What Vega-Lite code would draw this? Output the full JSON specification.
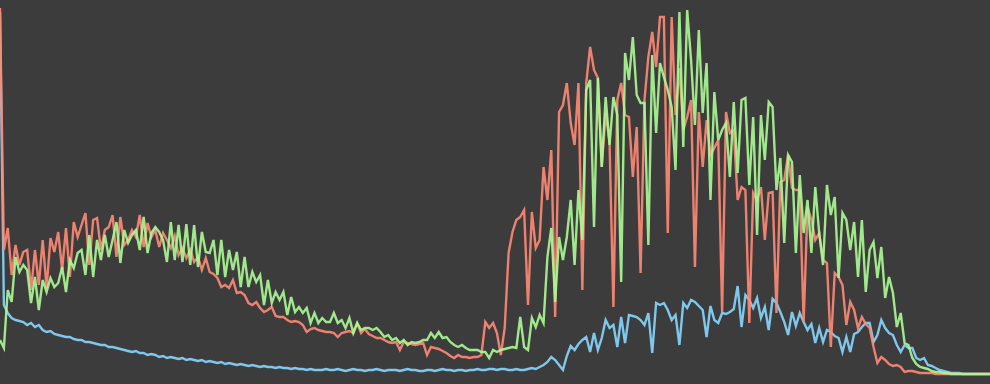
{
"$schema": "https://vega.github.io/schema/vega-lite/v6.json",
"width": 990, "height": 384,
"autosize": {"type": "fit", "contains": "padding"},
"padding": 0,
"background": "#3c3c3c",
"config": {"view": {"stroke": null}},
"data": {"values": [
{"bin":0,"r":376,"g":44,"b":372},{"bin":1,"r":134,"g":36,"b":79},{"bin":2,"r":156,"g":94,"b":71},{"bin":3,"r":109,"g":82,"b":66},{"bin":4,"r":139,"g":127,"b":64},{"bin":5,"r":119,"g":112,"b":63},{"bin":6,"r":132,"g":119,"b":62},{"bin":7,"r":134,"g":114,"b":59},{"bin":8,"r":94,"g":81,"b":61},{"bin":9,"r":134,"g":107,"b":57},
{"bin":10,"r":99,"g":74,"b":59},{"bin":11,"r":144,"g":104,"b":54},{"bin":12,"r":96,"g":92,"b":52},{"bin":13,"r":146,"g":106,"b":53},{"bin":14,"r":132,"g":97,"b":50},{"bin":15,"r":152,"g":101,"b":49},{"bin":16,"r":114,"g":117,"b":48},{"bin":17,"r":156,"g":92,"b":47},{"bin":18,"r":107,"g":124,"b":47},{"bin":19,"r":162,"g":116,"b":45},
{"bin":20,"r":147,"g":131,"b":44},{"bin":21,"r":159,"g":134,"b":44},{"bin":22,"r":171,"g":109,"b":42},{"bin":23,"r":119,"g":149,"b":42},{"bin":24,"r":164,"g":107,"b":41},{"bin":25,"r":166,"g":144,"b":40},{"bin":26,"r":134,"g":124,"b":39},{"bin":27,"r":154,"g":149,"b":39},{"bin":28,"r":157,"g":127,"b":37},{"bin":29,"r":169,"g":144,"b":37},
{"bin":30,"r":127,"g":162,"b":36},{"bin":31,"r":167,"g":121,"b":35},{"bin":32,"r":139,"g":154,"b":34},{"bin":33,"r":144,"g":141,"b":33},{"bin":34,"r":154,"g":149,"b":32},{"bin":35,"r":147,"g":154,"b":33},{"bin":36,"r":169,"g":134,"b":31},{"bin":37,"r":137,"g":167,"b":31},{"bin":38,"r":161,"g":131,"b":29},{"bin":39,"r":147,"g":151,"b":30},
{"bin":40,"r":154,"g":157,"b":29},{"bin":41,"r":137,"g":152,"b":27},{"bin":42,"r":151,"g":144,"b":28},{"bin":43,"r":144,"g":122,"b":26},{"bin":44,"r":136,"g":162,"b":27},{"bin":45,"r":148,"g":124,"b":26},{"bin":46,"r":129,"g":159,"b":25},{"bin":47,"r":136,"g":122,"b":26},{"bin":48,"r":126,"g":160,"b":24},{"bin":49,"r":134,"g":119,"b":25},
{"bin":50,"r":122,"g":159,"b":24},{"bin":51,"r":127,"g":117,"b":23},{"bin":52,"r":114,"g":152,"b":24},{"bin":53,"r":126,"g":132,"b":22},{"bin":54,"r":112,"g":131,"b":23},{"bin":55,"r":110,"g":144,"b":22},{"bin":56,"r":106,"g":109,"b":21},{"bin":57,"r":97,"g":144,"b":22},{"bin":58,"r":99,"g":107,"b":20},{"bin":59,"r":96,"g":134,"b":21},
{"bin":60,"r":104,"g":114,"b":20},{"bin":61,"r":91,"g":132,"b":19},{"bin":62,"r":92,"g":97,"b":20},{"bin":63,"r":89,"g":127,"b":19},{"bin":64,"r":81,"g":97,"b":18},{"bin":65,"r":79,"g":112,"b":19},{"bin":66,"r":82,"g":102,"b":18},{"bin":67,"r":76,"g":109,"b":17},{"bin":68,"r":72,"g":79,"b":18},{"bin":69,"r":74,"g":104,"b":17},
{"bin":70,"r":77,"g":81,"b":17},{"bin":71,"r":68,"g":92,"b":16},{"bin":72,"r":67,"g":84,"b":17},{"bin":73,"r":67,"g":92,"b":16},{"bin":74,"r":64,"g":69,"b":16},{"bin":75,"r":62,"g":87,"b":15},{"bin":76,"r":63,"g":72,"b":16},{"bin":77,"r":62,"g":77,"b":15},{"bin":78,"r":59,"g":71,"b":15},{"bin":79,"r":52,"g":76,"b":14},
{"bin":80,"r":55,"g":61,"b":15},{"bin":81,"r":56,"g":71,"b":14},{"bin":82,"r":54,"g":61,"b":14},{"bin":83,"r":53,"g":66,"b":14},{"bin":84,"r":52,"g":62,"b":15},{"bin":85,"r":52,"g":62,"b":14},{"bin":86,"r":51,"g":71,"b":14},{"bin":87,"r":47,"g":61,"b":15},{"bin":88,"r":51,"g":64,"b":14},{"bin":89,"r":52,"g":56,"b":13},
{"bin":90,"r":53,"g":66,"b":14},{"bin":91,"r":51,"g":51,"b":15},{"bin":92,"r":61,"g":61,"b":14},{"bin":93,"r":51,"g":54,"b":14},{"bin":94,"r":55,"g":56,"b":13},{"bin":95,"r":50,"g":56,"b":14},{"bin":96,"r":48,"g":54,"b":14},{"bin":97,"r":46,"g":56,"b":15},{"bin":98,"r":46,"g":52,"b":14},{"bin":99,"r":44,"g":47,"b":13},
{"bin":100,"r":42,"g":49,"b":14},{"bin":101,"r":41,"g":44,"b":14},{"bin":102,"r":42,"g":46,"b":14},{"bin":103,"r":34,"g":41,"b":13},{"bin":104,"r":42,"g":44,"b":14},{"bin":105,"r":41,"g":39,"b":15},{"bin":106,"r":40,"g":42,"b":14},{"bin":107,"r":39,"g":41,"b":14},{"bin":108,"r":40,"g":42,"b":13},{"bin":109,"r":41,"g":44,"b":13},
{"bin":110,"r":29,"g":44,"b":14},{"bin":111,"r":37,"g":51,"b":14},{"bin":112,"r":36,"g":46,"b":13},{"bin":113,"r":35,"g":52,"b":14},{"bin":114,"r":33,"g":46,"b":15},{"bin":115,"r":31,"g":47,"b":14},{"bin":116,"r":28,"g":42,"b":14},{"bin":117,"r":26,"g":39,"b":13},{"bin":118,"r":29,"g":37,"b":14},{"bin":119,"r":27,"g":39,"b":14},
{"bin":120,"r":27,"g":36,"b":13},{"bin":121,"r":26,"g":34,"b":14},{"bin":122,"r":27,"g":34,"b":14},{"bin":123,"r":27,"g":34,"b":15},{"bin":124,"r":29,"g":32,"b":14},{"bin":125,"r":62,"g":32,"b":14},{"bin":126,"r":56,"g":26,"b":15},{"bin":127,"r":61,"g":34,"b":15},{"bin":128,"r":51,"g":32,"b":14},{"bin":129,"r":29,"g":34,"b":15},
{"bin":130,"r":56,"g":35,"b":15},{"bin":131,"r":131,"g":36,"b":14},{"bin":132,"r":152,"g":37,"b":14},{"bin":133,"r":164,"g":36,"b":15},{"bin":134,"r":167,"g":67,"b":14},{"bin":135,"r":174,"g":37,"b":14},{"bin":136,"r":79,"g":34,"b":15},{"bin":137,"r":172,"g":66,"b":16},{"bin":138,"r":136,"g":57,"b":15},{"bin":139,"r":144,"g":69,"b":17},
{"bin":140,"r":217,"g":61,"b":19},{"bin":141,"r":184,"g":127,"b":22},{"bin":142,"r":234,"g":156,"b":27},{"bin":143,"r":67,"g":82,"b":24},{"bin":144,"r":272,"g":147,"b":19},{"bin":145,"r":279,"g":124,"b":14},{"bin":146,"r":301,"g":147,"b":28},{"bin":147,"r":261,"g":184,"b":38},{"bin":148,"r":239,"g":119,"b":34},{"bin":149,"r":301,"g":194,"b":40},
{"bin":150,"r":94,"g":144,"b":44},{"bin":151,"r":301,"g":294,"b":47},{"bin":152,"r":337,"g":304,"b":32},{"bin":153,"r":314,"g":157,"b":51},{"bin":154,"r":306,"g":306,"b":34},{"bin":155,"r":217,"g":217,"b":46},{"bin":156,"r":271,"g":287,"b":64},{"bin":157,"r":242,"g":239,"b":56},{"bin":158,"r":77,"g":287,"b":59},{"bin":159,"r":284,"g":269,"b":37},
{"bin":160,"r":301,"g":102,"b":67},{"bin":161,"r":269,"g":331,"b":41},{"bin":162,"r":267,"g":304,"b":69},{"bin":163,"r":207,"g":347,"b":68},{"bin":164,"r":257,"g":289,"b":67},{"bin":165,"r":111,"g":281,"b":64},{"bin":166,"r":284,"g":281,"b":59},{"bin":167,"r":327,"g":139,"b":71},{"bin":168,"r":352,"g":329,"b":31},{"bin":169,"r":317,"g":251,"b":81},
{"bin":170,"r":367,"g":321,"b":79},{"bin":171,"r":367,"g":307,"b":81},{"bin":172,"r":151,"g":294,"b":74},{"bin":173,"r":367,"g":277,"b":64},{"bin":174,"r":269,"g":214,"b":69},{"bin":175,"r":316,"g":372,"b":39},{"bin":176,"r":254,"g":237,"b":81},{"bin":177,"r":267,"g":374,"b":76},{"bin":178,"r":284,"g":324,"b":84},{"bin":179,"r":117,"g":259,"b":82},
{"bin":180,"r":272,"g":354,"b":78},{"bin":181,"r":217,"g":271,"b":74},{"bin":182,"r":264,"g":321,"b":47},{"bin":183,"r":229,"g":184,"b":78},{"bin":184,"r":236,"g":292,"b":64},{"bin":185,"r":244,"g":244,"b":61},{"bin":186,"r":72,"g":254,"b":71},{"bin":187,"r":272,"g":261,"b":70},{"bin":188,"r":251,"g":207,"b":72},{"bin":189,"r":254,"g":282,"b":75},
{"bin":190,"r":184,"g":211,"b":98},{"bin":191,"r":197,"g":284,"b":57},{"bin":192,"r":194,"g":286,"b":89},{"bin":193,"r":61,"g":199,"b":84},{"bin":194,"r":191,"g":267,"b":76},{"bin":195,"r":184,"g":149,"b":86},{"bin":196,"r":197,"g":269,"b":66},{"bin":197,"r":144,"g":224,"b":77},{"bin":198,"r":191,"g":282,"b":54},{"bin":199,"r":192,"g":277,"b":85},
{"bin":200,"r":71,"g":194,"b":81},{"bin":201,"r":202,"g":226,"b":72},{"bin":202,"r":204,"g":141,"b":62},{"bin":203,"r":229,"g":229,"b":49},{"bin":204,"r":196,"g":222,"b":72},{"bin":205,"r":194,"g":131,"b":58},{"bin":206,"r":194,"g":209,"b":71},{"bin":207,"r":62,"g":151,"b":62},{"bin":208,"r":177,"g":184,"b":54},{"bin":209,"r":164,"g":131,"b":60},
{"bin":210,"r":144,"g":197,"b":41},{"bin":211,"r":151,"g":151,"b":56},{"bin":212,"r":124,"g":119,"b":42},{"bin":213,"r":121,"g":199,"b":54},{"bin":214,"r":37,"g":169,"b":52},{"bin":215,"r":111,"g":187,"b":48},{"bin":216,"r":107,"g":106,"b":46},{"bin":217,"r":99,"g":171,"b":32},{"bin":218,"r":59,"g":164,"b":47},{"bin":219,"r":82,"g":134,"b":32},
{"bin":220,"r":74,"g":162,"b":50},{"bin":221,"r":56,"g":107,"b":52},{"bin":222,"r":67,"g":164,"b":57},{"bin":223,"r":60,"g":92,"b":61},{"bin":224,"r":56,"g":134,"b":61},{"bin":225,"r":37,"g":142,"b":42},{"bin":226,"r":21,"g":106,"b":49},{"bin":227,"r":27,"g":137,"b":64},{"bin":228,"r":24,"g":86,"b":56},{"bin":229,"r":20,"g":107,"b":51},
{"bin":230,"r":18,"g":91,"b":49},{"bin":231,"r":19,"g":57,"b":39},{"bin":232,"r":17,"g":71,"b":32},{"bin":233,"r":12,"g":41,"b":39},{"bin":234,"r":13,"g":39,"b":36},{"bin":235,"r":13,"g":26,"b":36},{"bin":236,"r":12,"g":20,"b":26},{"bin":237,"r":11,"g":17,"b":24},{"bin":238,"r":11,"g":16,"b":26},{"bin":239,"r":11,"g":15,"b":19},
{"bin":240,"r":11,"g":13,"b":18},{"bin":241,"r":10,"g":12,"b":16},{"bin":242,"r":10,"g":12,"b":14},{"bin":243,"r":10,"g":11,"b":13},{"bin":244,"r":10,"g":11,"b":12},{"bin":245,"r":10,"g":10,"b":11},{"bin":246,"r":10,"g":10,"b":11},{"bin":247,"r":10,"g":10,"b":11},{"bin":248,"r":10,"g":10,"b":10},{"bin":249,"r":10,"g":10,"b":10},
{"bin":250,"r":10,"g":10,"b":10},{"bin":251,"r":10,"g":10,"b":10},{"bin":252,"r":10,"g":10,"b":10},{"bin":253,"r":10,"g":10,"b":10},{"bin":254,"r":10,"g":10,"b":10},{"bin":255,"r":10,"g":10,"b":10}
]},
"transform": [{"fold": ["b", "r", "g"], "as": ["channel", "count"]}],
"mark": {"type": "line", "strokeWidth": 2.4, "opacity": 0.9, "clip": true},
"encoding": {
"x": {"field": "bin", "type": "quantitative", "scale": {"domain": [0, 255], "nice": false, "zero": false}, "axis": null},
"y": {"field": "count", "type": "quantitative", "scale": {"domain": [0, 384], "nice": false}, "axis": null},
"color": {"field": "channel", "type": "nominal", "scale": {"domain": ["r", "g", "b"], "range": ["#ff8a74", "#abfb93", "#86d6ff"]}, "legend": null},
"detail": {"field": "channel"}
}
}
